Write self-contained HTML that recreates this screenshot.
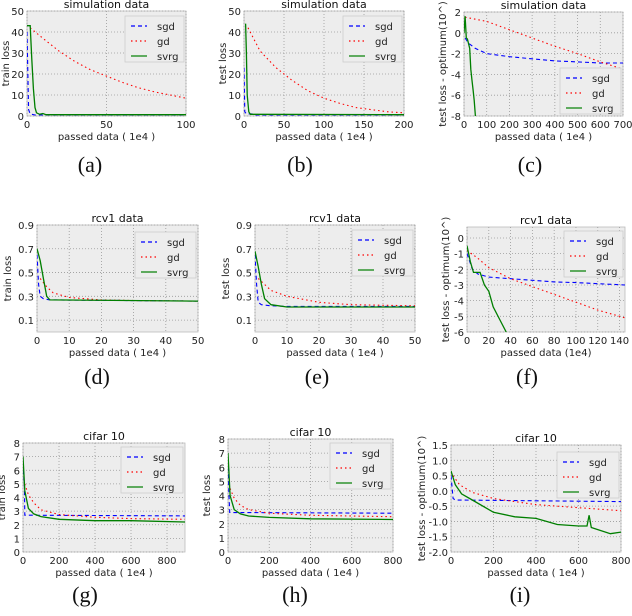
<!DOCTYPE html>
<html><head><meta charset="utf-8"><style>
html,body{margin:0;padding:0;background:#fff;}
svg{display:block;font-family:"DejaVu Sans","Liberation Sans",sans-serif;}
.cap{font-family:"Liberation Serif",serif;font-size:22px;}
</style></head><body>
<svg id="fig" width="632" height="616" viewBox="0 0 632 616"></svg>
<script>
// ---- data arrays (x, y pairs) ----
const aSgd=[[0,40],[1,3],[2,1],[5,0.5],[100,0.5]];
const aGd=[[2,42],[10,37],[20,31],[30,26],[40,22],[50,19],[60,16],[70,13.5],[80,11.5],[90,10],[100,8.5]];
const aSvrg=[[0,43],[2,43],[3,27],[4,13],[5,4],[6,1.5],[8,0.8],[10,1.2],[12,0.6],[100,0.6]];
const bSgd=[[0,23],[1,2],[3,1],[10,1],[13,0.5],[200,0.5]];
const bGd=[[5,42],[20,31],[40,23],[60,17],[80,12],[100,8.5],[120,6],[140,4],[160,3],[180,2],[200,1.5]];
const bSvrg=[[2,44],[3,30],[4,10],[6,2],[8,0.8],[200,0.6]];
const cSgd=[[5,-0.5],[20,-1],[50,-1.5],[100,-2],[200,-2.3],[300,-2.5],[400,-2.7],[500,-2.8],[600,-2.9],[700,-2.9]];
const cGd=[[5,1.5],[100,1.1],[200,0.3],[300,-0.5],[400,-1.3],[500,-2],[600,-2.8],[700,-3.5]];
const cSvrg=[[0,0],[5,1.6],[10,-0.5],[15,-0.6],[25,-1.5],[30,-3.5],[35,-4.5],[40,-5.5],[45,-6.5],[50,-8]];
const dSgd=[[0,0.65],[0.5,0.4],[1,0.3],[2,0.28],[4,0.27],[50,0.26]];
const dGd=[[1,0.45],[3,0.38],[5,0.33],[10,0.29],[15,0.28],[20,0.27],[30,0.265],[50,0.26]];
const dSvrg=[[0,0.7],[1,0.6],[2,0.45],[3,0.3],[4,0.27],[50,0.26]];
const eSgd=[[0,0.65],[0.5,0.4],[1,0.25],[2,0.23],[5,0.22],[10,0.215],[50,0.215]];
const eGd=[[1,0.45],[5,0.35],[10,0.3],[20,0.25],[30,0.23],[50,0.22]];
const eSvrg=[[0,0.68],[1,0.55],[2,0.4],[3,0.28],[5,0.23],[10,0.21],[50,0.21]];
const fSgd=[[0,-1],[5,-2],[10,-2.3],[20,-2.5],[40,-2.6],[60,-2.7],[80,-2.8],[100,-2.85],[145,-3]];
const fGd=[[0,-0.8],[10,-1.3],[20,-1.9],[40,-2.6],[60,-3.1],[80,-3.6],[100,-4.1],[120,-4.6],[140,-5],[145,-5.1]];
const fSvrg=[[0,-0.5],[3,-1.5],[6,-2.2],[12,-2.2],[16,-3],[20,-3.4],[24,-4.4],[30,-5.2],[36,-6]];
const gSgd=[[0,6],[8,5],[10,2.7],[900,2.65]];
const gGd=[[10,5],[30,4.2],[60,3.6],[100,3.1],[200,2.75],[400,2.55],[600,2.45],[900,2.4]];
const gSvrg=[[0,7],[10,4.5],[30,3.2],[60,2.8],[100,2.6],[200,2.4],[400,2.3],[600,2.3],[900,2.2]];
const hSgd=[[0,6.5],[5,4],[8,2.8],[800,2.75]];
const hGd=[[10,4.5],[30,3.8],[60,3.3],[100,3],[200,2.75],[400,2.6],[800,2.5]];
const hSvrg=[[0,7],[10,4],[30,3],[60,2.7],[100,2.55],[200,2.45],[400,2.35],[800,2.3]];
const iSgd=[[0,0.5],[10,-0.25],[20,-0.3],[800,-0.35]];
const iGd=[[10,0.5],[40,0.2],[100,-0.05],[200,-0.25],[300,-0.35],[400,-0.45],[600,-0.55],[800,-0.65]];
const iSvrg=[[0,0.65],[20,0.2],[50,-0.1],[100,-0.3],[200,-0.7],[300,-0.85],[400,-0.9],[500,-1.1],[600,-1.15],[640,-1.15],[650,-0.8],[660,-1.2],[750,-1.4],[800,-1.35]];
// tick labels
const aXT=[0,50,100], aYT=[0,10,20,30,40,50];
const bXT=[0,50,100,150,200], bYT=[0,10,20,30,40,50];
const cXT=[0,100,200,300,400,500,600,700], cYT=[-8,-6,-4,-2,0,2];
const dXT=[0,10,20,30,40,50], dYT=[0.1,0.3,0.5,0.7,0.9];
const fXT=[0,20,40,60,80,100,120,140], fYT=[-6,-5,-4,-3,-2,-1,0];
const gXT=[0,200,400,600,800], gYT=[0,1,2,3,4,5,6,7,8];
const hXT=[0,200,400,600,800];
const iXT=[0,200,400,600,800], iYT=[-2.0,-1.5,-1.0,-0.5,0.0,0.5,1.0,1.5];

const NS='http://www.w3.org/2000/svg';
const fig=document.getElementById('fig');
function mk(tag,attrs,parent,txt){const e=document.createElementNS(NS,tag);for(const k in attrs)e.setAttribute(k,attrs[k]);if(txt!==undefined)e.textContent=txt;(parent||fig).appendChild(e);return e;}

const panels=[
 {id:'a',L:27,R:186,T:11,B:116,x0:0,x1:100,y0:0,y1:50,xt:aXT,yt:aYT,yl:'train loss',title:'simulation data',s:[aSgd,aGd,aSvrg],leg:[125,16],cap:[90,172],cl:'(a)',xl:'passed data ( 1e4 )'},
 {id:'b',L:244,R:404,T:11,B:116,x0:0,x1:200,y0:0,y1:50,xt:bXT,yt:bYT,yl:'test loss',title:'simulation data',s:[bSgd,bGd,bSvrg],leg:[343,16],cap:[300,172],cl:'(b)',xl:'passed data ( 1e4 )'},
 {id:'c',L:464,R:623,T:12,B:116,x0:0,x1:700,y0:-8,y1:2,xt:cXT,yt:cYT,yl:'test loss - optimum(10^)',title:'simulation data',s:[cSgd,cGd,cSvrg],leg:[560,68],cap:[530,172],cl:'(c)',xl:'passed data ( 1e4 )'},
 {id:'d',L:37,R:198,T:225,B:332,x0:0,x1:50,y0:0,y1:0.9,xt:dXT,yt:dYT,yl:'train loss',title:'rcv1 data',s:[dSgd,dGd,dSvrg],leg:[135,232],cap:[97,384],cl:'(d)',xl:'passed data ( 1e4 )'},
 {id:'e',L:255,R:415,T:225,B:332,x0:0,x1:50,y0:0,y1:0.9,xt:dXT,yt:dYT,yl:'test loss',title:'rcv1 data',s:[eSgd,eGd,eSvrg],leg:[352,230],cap:[317,384],cl:'(e)',xl:'passed data ( 1e4 )'},
 {id:'f',L:467,R:625,T:227,B:332,x0:0,x1:145,y0:-6,y1:0.7,xt:fXT,yt:fYT,yl:'test loss - optimum(10^)',title:'rcv1 data',s:[fSgd,fGd,fSvrg],leg:[564,231],cap:[527,384],cl:'(f)',xl:'passed data (1e4)'},
 {id:'g',L:23,R:185,T:443,B:552,x0:0,x1:900,y0:0,y1:8,xt:gXT,yt:gYT,yl:'train loss',title:'cifar 10',s:[gSgd,gGd,gSvrg],leg:[121,447],cap:[85,602],cl:'(g)',xl:'passed data ( 1e4 )'},
 {id:'h',L:228,R:393,T:439,B:552,x0:0,x1:800,y0:0,y1:8,xt:hXT,yt:gYT,yl:'test loss',title:'cifar 10',s:[hSgd,hGd,hSvrg],leg:[330,443],cap:[295,602],cl:'(h)',xl:'passed data ( 1e4 )'},
 {id:'i',L:451,R:621,T:445,B:552,x0:0,x1:800,y0:-2,y1:1.5,xt:iXT,yt:iYT,yl:'test loss - optimum(10^)',title:'cifar 10',s:[iSgd,iGd,iSvrg],leg:[557,452],cap:[520,602],cl:'(i)',xl:'passed data ( 1e4 )'}
];
const names=['sgd','gd','svrg'];
const colors=['#0000ff','#ff0000','#007f00'];
const dashes=['4,3','1.5,3','none'];

panels.forEach(p=>{
 const g=mk('g',{});
 
 
 const sx=v=>p.L+(v-p.x0)/(p.x1-p.x0)*(p.R-p.L);
 const sy=v=>p.B-(v-p.y0)/(p.y1-p.y0)*(p.B-p.T);
 const bg=mk('rect',{x:p.L,y:p.T,width:p.R-p.L,height:p.B-p.T,fill:'#ededed',stroke:'#bbb','stroke-width':0.8},g);
 
 
 p.xt.forEach(t=>{
  const x=sx(t);
  mk('line',{x1:x,x2:x,y1:p.T,y2:p.B,stroke:'#999','stroke-dasharray':'1,2','stroke-width':0.8},g);
  const lb=mk('text',{x:x,y:p.B+12,'font-size':10,'text-anchor':'middle',fill:'#222'},g,String(t));
  
  
 });
 p.yt.forEach(t=>{
  const y=sy(t);
  mk('line',{x1:p.L,x2:p.R,y1:y,y2:y,stroke:'#999','stroke-dasharray':'1,2','stroke-width':0.8},g);
  const lb=mk('text',{x:p.L-3,y:y+4,'font-size':10,'text-anchor':'end',fill:'#222'},g,(Math.abs(t)<1&&t!==0||p.id==='i')?t.toFixed(1):String(t));
  
  
 });
 const ti=mk('text',{x:(p.L+p.R)/2,y:p.T-3,'font-size':11,'text-anchor':'middle',fill:'#111'},g,p.title);
 
 
 const xl=mk('text',{x:(p.L+p.R)/2,y:p.B+24,'font-size':10,'text-anchor':'middle',fill:'#222'},g,p.xl);
 
 
 const yx=p.L-(p.yt.some(t=>String(t).length>2)?26:18);
 const yl=mk('text',{x:yx,y:(p.T+p.B)/2,'font-size':10,'text-anchor':'middle',fill:'#222',transform:`rotate(-90 ${yx} ${(p.T+p.B)/2})`},g,p.yl);
 
 
 const cp=mk('clipPath',{id:'clip'+p.id},g);
 mk('rect',{x:p.L,y:p.T,width:p.R-p.L,height:p.B-p.T},cp);
 p.s.forEach((d,k)=>{
  const pts=d.map(q=>sx(q[0]).toFixed(1)+','+sy(q[1]).toFixed(1)).join(' ');
  const pl=mk('polyline',{points:pts,fill:'none',stroke:colors[k],'stroke-width':k===2?1.3:1.1,'stroke-dasharray':dashes[k],'clip-path':`url(#clip${p.id})`},g);
  
  
 });
 const lg=mk('g',{},g);
 
 
 mk('rect',{x:p.leg[0],y:p.leg[1],width:p.R-p.leg[0]-2,height:46,fill:'#ededed',stroke:'#ccc','stroke-width':0.8},lg);
 names.forEach((n,k)=>{
  const y=p.leg[1]+10+k*15;
  mk('line',{x1:p.leg[0]+6,x2:p.leg[0]+22,y1:y,y2:y,stroke:colors[k],'stroke-width':1.2,'stroke-dasharray':dashes[k]},lg);
  const t=mk('text',{x:p.leg[0]+32,y:y+4,'font-size':10,fill:'#222'},lg,n);
  
  
 });
 const c=mk('text',{x:p.cap[0],y:p.cap[1],'text-anchor':'middle',class:'cap',fill:'#111'},g,p.cl);
 
 
});
</script>
</body></html>
